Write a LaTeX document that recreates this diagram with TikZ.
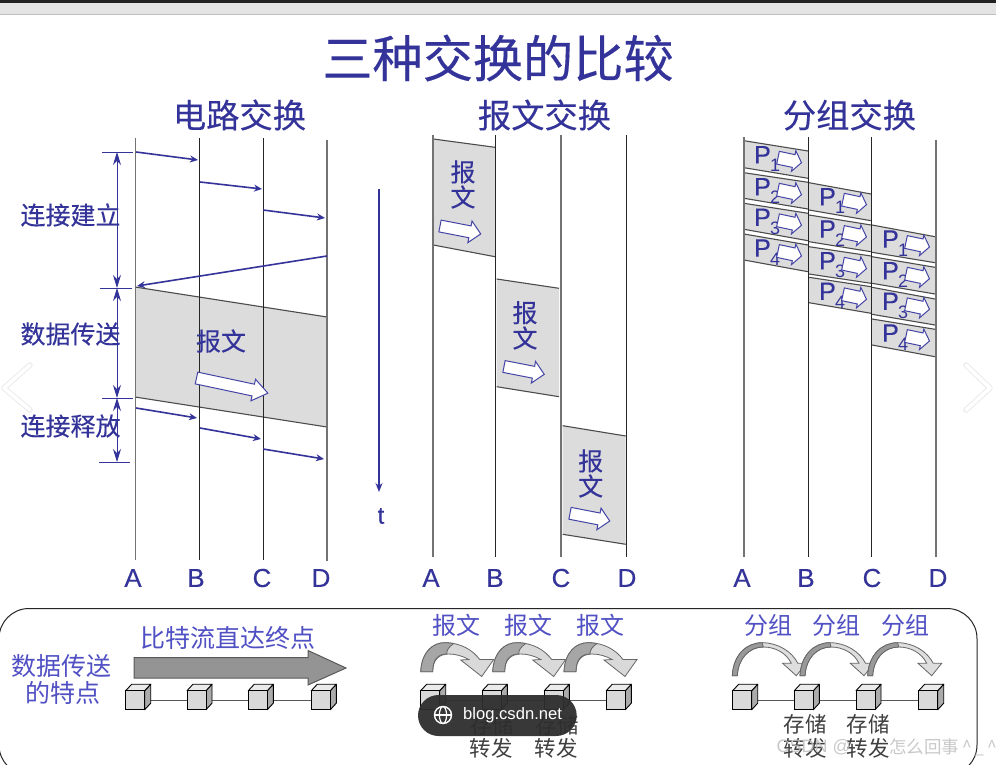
\documentclass[tikz,border=0pt]{standalone}
\usepackage{fontspec}
\usetikzlibrary{arrows.meta}
\setmainfont{Liberation Sans}
\newfontfamily\cjk[FakeBold=0.25]{Noto Sans CJK SC}
\newfontfamily\cjklight{Noto Sans CJK SC}
\newfontfamily\latbold[FakeBold=0.2]{Liberation Sans}
\definecolor{navy}{HTML}{333399}
\definecolor{soft}{HTML}{5050C4}
\definecolor{band}{HTML}{DCDCDC}
\newcommand{\fs}[1]{\fontsize{#1}{#1}\selectfont}
\tikzset{
  lbl/.style={inner sep=0pt,text=navy,font=\cjk\fs{25}},
  softlbl/.style={inner sep=0pt,text=soft,font=\cjklight\fs{24}},
  darklbl/.style={inner sep=0pt,text=black!75,font=\cjklight\fs{21.5}},
  axislbl/.style={inner sep=0pt,text=navy,font=\latbold\fs{26}},
  greyline/.style={draw=black!55,line width=1.2pt},
  blackline/.style={draw=black!85,line width=1pt},
  msgarrow/.style={draw=navy,line width=1.6pt,-{Stealth[length=8pt,width=7pt]}},
  dimarrow/.style={draw=navy,line width=0.9pt,{Stealth[length=13pt,width=8pt]}-{Stealth[length=13pt,width=8pt]}},
  tick/.style={draw=navy,line width=0.9pt},
  bandbox/.style={fill=band,draw=none},
  bandedge/.style={draw=black!70,line width=1.1pt},
  hollow/.style={fill=white,draw=soft!85!black,line width=1pt,line join=miter},
}
% lifeline
\newcommand{\life}[5]{\coordinate (#1-t) at (#2,#3);\coordinate (#1-b) at (#2,#4);\draw[#5] (#1-t)--(#1-b);}
% message arrow
\newcommand{\msg}[5]{\coordinate (#1-s) at (#2,#3);\coordinate (#1-e) at (#4,#5);\draw[msgarrow] (#1-s)--(#1-e);}
% hollow arrow: x y len angle halfshaft halfhead headlen
\newcommand{\harrow}[7]{\draw[hollow,shift={(#1,#2)},rotate=-#4]
  (0,-#5)--({#3-#7},-#5)--({#3-#7},-#6)--(#3,0)--({#3-#7},#6)--({#3-#7},#5)--(0,#5)--cycle;}
% slanted box: x1 x2 yt1 yt2 yb1 yb2
\newcommand{\slant}[6]{\fill[bandbox] (#1,#3)--(#2,#4)--(#2,#6)--(#1,#5)--cycle;
  \draw[bandedge] (#1,#3)--(#2,#4);\draw[bandedge] (#1,#5)--(#2,#6);}
% packet: name x1 x2 yt1 yt2 yb1 yb2 n
\newcommand{\pkt}[8]{\slant{#2}{#3}{#4}{#5}{#6}{#7}
  \node[inner sep=0pt,text=navy,font=\latbold\fs{25}] (#1-p) at ({#2+18.5},{#4+14}) {P};
  \node[inner sep=0pt,text=navy,font=\fs{18}] (#1-n) at ({#2+31},{#4+25}) {#8};
  \harrow{{#2+34}}{{#4+17}}{24}{12}{6.5}{10.5}{8}}
% cube: x y (front top-left)
\newcommand{\cube}[2]{
  \draw[black,line width=0.9pt,fill=black!33,line join=round] ({#1+19},#2)--({#1+25},{#2-6.5})--({#1+25},{#2+12.5})--({#1+19},{#2+19})--cycle;
  \draw[black,line width=0.9pt,fill=black!8,line join=round] (#1,#2)--({#1+6},{#2-6.5})--({#1+25},{#2-6.5})--({#1+19},#2)--cycle;
  \draw[black,line width=0.9pt,fill=black!15] (#1,#2) rectangle ({#1+19},{#2+19});}
% wide curved arrow at x0
\newcommand{\widearc}[1]{\begin{scope}[shift={(#1,0)}]
  \draw[black!60,line width=0.8pt,fill=black!15,line join=miter]
   (0,671.7) .. controls (1,652) and (12,642.7) .. (24,642.7) .. controls (40,642.7) and (52,650) .. (59,659.5)
   -- (73,659.5) -- (61,676.5) -- (40,660) -- (48,659.5) .. controls (42,656) and (35,654) .. (28,654)
   .. controls (18,654) and (12,660) .. (12,671.7) -- cycle;
  \draw[black!60,line width=0.8pt,fill=black!35,line join=miter]
   (0,671.7) .. controls (1,652) and (12,642.7) .. (24,642.7) .. controls (27,642.7) and (30,643) .. (33,643.5)
   .. controls (28,647) and (26,650) .. (26,654) .. controls (17,654) and (12,660) .. (12,671.7) -- cycle;
 \end{scope}}
% thin curved arrow at x0
\newcommand{\thinarc}[1]{\begin{scope}[shift={(#1,0)}]
  \draw[black!60,line width=0.8pt,fill=black!13,line join=miter]
   (0,675.7) .. controls (1,655) and (14,642.7) .. (30,642.7) .. controls (46,642.7) and (60,652) .. (65.5,663.3)
   -- (74,663.3) -- (64,675.7) -- (50.3,663.3) -- (59,663.3) .. controls (54,653) and (43,647) .. (31,647)
   .. controls (17,647) and (6,658) .. (5,675.7) -- cycle;
  \draw[black!60,line width=0.8pt,fill=black!40,line join=miter]
   (0,675.7) .. controls (1,655) and (14,642.7) .. (30,642.7) -- (31,647)
   .. controls (17,647) and (6,658) .. (5,675.7) -- cycle;
 \end{scope}}
\begin{document}
\begin{tikzpicture}[x=1pt,y=-1pt]
\useasboundingbox (0,0) rectangle (996,765);
\clip (0,0) rectangle (996,765);
\fill[white] (0,0) rectangle (996,765);
% browser top strip
\fill[black!87] (0,0) rectangle (996,3);
\fill[black!11] (0,3) rectangle (996,14);
\draw[black!25,line width=0.8pt] (0,14.5)--(996,14.5);
% headings
\node[inner sep=0pt,text=navy,font=\cjk\fs{50.2}] (title) at (498,58) {三种交换的比较};
\node[inner sep=0pt,text=navy,font=\cjk\fs{33.3}] (h1) at (239.5,115) {电路交换};
\node[inner sep=0pt,text=navy,font=\cjk\fs{33.3}] (h2) at (544.5,115) {报文交换};
\node[inner sep=0pt,text=navy,font=\cjk\fs{33.3}] (h3) at (849.5,115) {分组交换};
%% circuit switching
\fill[bandbox] (135,287)--(327,317)--(327,427)--(135,397)--cycle;
\draw[bandedge] (135,287)--(327,317);
\draw[bandedge] (135,397)--(327,427);
\life{la}{135.5}{138}{560}{greyline}
\life{lb}{199.5}{138}{560}{blackline}
\life{lc}{263.5}{138}{560}{blackline}
\life{ld}{327}{140}{561}{greyline}
\msg{m1}{136}{152}{198}{160}
\msg{m2}{200}{182}{262}{189}
\msg{m3}{263}{210}{325}{218}
\msg{m4}{327}{256}{137}{286}
\msg{m5}{136}{408}{197}{418}
\msg{m6}{200}{428}{261}{439}
\msg{m7}{263}{449}{324}{459}
\coordinate (d0) at (117,152);\coordinate (d1) at (117,288);\coordinate (d2) at (117,398);\coordinate (d3) at (117,462);
\draw[dimarrow] (d0)--(d1);
\draw[dimarrow] (d1)--(d2);
\draw[dimarrow] (d2)--(d3);
\draw[tick] (102,152)--(133,152);
\draw[tick] (100,288)--(132,288);
\draw[tick] (102,398)--(133,398);
\draw[tick] (99,462)--(130,462);
\node[lbl] (s1) at (70.5,215) {连接建立};
\node[lbl] (s2) at (70.5,334) {数据传送};
\node[lbl] (s3) at (70.5,426) {连接释放};
\node[lbl] (bw) at (221,341) {报文};
\harrow{196.5}{378}{73}{12}{6}{11}{15}
% time
\coordinate (t0) at (379,189);\coordinate (t1) at (379,492);
\draw[navy,line width=1.3pt,-{Stealth[length=9pt,width=7pt]}] (t0)--(t1);
\node[axislbl,font=\latbold\fs{24}] (tl) at (381,516) {t};
\node[axislbl] (a1) at (133,578) {A};
\node[axislbl] (b1) at (196,578) {B};
\node[axislbl] (c1) at (262,578) {C};
\node[axislbl] (e1) at (321,578) {D};
%% message switching
\slant{433.3}{495}{139}{147.3}{245}{256.7}
\slant{496.7}{559}{279}{288.3}{386.7}{396.7}
\slant{562.7}{625.7}{425.7}{436}{534.3}{544.3}
\life{ma}{433}{135}{557}{greyline}
\life{mb}{495.3}{135}{557}{blackline}
\life{mc}{561}{135}{557}{greyline}
\life{md}{626.3}{135}{557}{blackline}
\node[lbl] (x1a) at (463,172) {报};
\node[lbl] (x1b) at (463,197) {文};
\node[lbl] (x2a) at (525,312.7) {报};
\node[lbl] (x2b) at (525,338) {文};
\node[lbl] (x3a) at (590.7,461) {报};
\node[lbl] (x3b) at (590.7,486) {文};
\harrow{440}{226}{41.5}{11}{6}{11}{11}
\harrow{504}{366.5}{41}{11}{6}{11}{11}
\harrow{570}{513.3}{40.5}{11}{6}{11}{11}
\node[axislbl] (a2) at (431,578) {A};
\node[axislbl] (b2) at (495,578) {B};
\node[axislbl] (c2) at (561,578) {C};
\node[axislbl] (e2) at (627,578) {D};
%% packet switching
\pkt{p11}{744}{808}{140.7}{151}{167.7}{178.3}{1}
\pkt{p12}{744}{808}{172.7}{182.3}{198.3}{209}{2}
\pkt{p13}{744}{808}{203.3}{213.3}{229.3}{240.7}{3}
\pkt{p14}{744}{808}{234}{245}{260}{271.7}{4}
\pkt{p21}{809}{871}{182.7}{194}{210}{220.7}{1}
\pkt{p22}{809}{871}{215}{225}{241.7}{251.7}{2}
\pkt{p23}{809}{871}{246.7}{256}{274}{283.3}{3}
\pkt{p24}{809}{871}{277.3}{286.7}{302.7}{313.3}{4}
\pkt{p31}{872}{935}{225}{236.7}{252.3}{262.7}{1}
\pkt{p32}{872}{935}{256.7}{267.3}{283.3}{294}{2}
\pkt{p33}{872}{935}{287.3}{299}{314.3}{325}{3}
\pkt{p34}{872}{935}{319}{329.3}{345}{356.7}{4}
\life{ra}{744}{137}{557}{greyline}
\life{rb}{808.7}{137}{557}{blackline}
\life{rc}{871}{137}{557}{blackline}
\life{rd}{936}{140}{557}{greyline}
\node[axislbl] (a3) at (742,578) {A};
\node[axislbl] (b3) at (806,578) {B};
\node[axislbl] (c3) at (872,578) {C};
\node[axislbl] (e3) at (938,578) {D};
%% bottom panel
\draw[black!85,line width=1pt,rounded corners=30pt] (-1,608.5) rectangle (977,775);
\node[softlbl,font=\cjklight\fs{25}] (f1) at (62,666) {数据传送};
\node[softlbl,font=\cjklight\fs{25}] (f2) at (62.5,693) {的特点};
\node[softlbl,font=\cjklight\fs{25}] (f3) at (228,638) {比特流直达终点};
\draw[black!65,fill=black!42,line width=1pt] (134,657.5)--(308,657.5)--(308,650.5)--(346,668)--(308,685)--(308,678)--(134,678)--cycle;
\foreach \xa/\xb/\ya in {125.7/311.3/700,420.7/606.3/700,732.7/918.7/700}{
  \draw[black!65,line width=1pt] (\xa,\ya)--(\xb,\ya);}
\cube{125.7}{690.7}\cube{187}{690.7}\cube{248.3}{690.7}\cube{311.3}{690.7}
\cube{420.7}{690.7}\cube{482.3}{690.7}\cube{544.3}{690.7}\cube{606.3}{690.7}
\cube{732.7}{690.7}\cube{794.3}{690.7}\cube{856}{690.7}\cube{918.7}{690.7}
\node[softlbl] (q1) at (456,625) {报文};
\node[softlbl] (q2) at (528,625) {报文};
\node[softlbl] (q3) at (600.5,625) {报文};
\node[softlbl] (g1) at (768,625) {分组};
\node[softlbl] (g2) at (836,625) {分组};
\node[softlbl] (g3) at (905,625) {分组};
\widearc{420.7}\widearc{492.7}\widearc{564}
\thinarc{732.3}\thinarc{800}\thinarc{867.7}
\node[darklbl] (k1) at (492,725) {存储};
\node[darklbl] (k2) at (557,725) {存储};
\node[darklbl] (k3) at (491,748) {转发};
\node[darklbl] (k4) at (556,748) {转发};
\node[darklbl] (k5) at (805,724) {存储};
\node[darklbl] (k6) at (868,724) {存储};
\node[darklbl] (k7) at (805,748) {转发};
\node[darklbl] (k8) at (868,748) {转发};
%% viewer overlays
\foreach \xa/\xb in {30/4,966/990}{
  \draw[black!8,line width=5.5pt,line cap=round,line join=round] (\xa,365)--(\xb,388)--(\xa,410);
  \draw[white,line width=3.5pt,line cap=round,line join=round] (\xa,365)--(\xb,388)--(\xa,410);}
\fill[black!82,opacity=.95,rounded corners=20.5pt] (418,695) rectangle (576.7,736);
\node[inner sep=0pt,anchor=west,text=white,font=\fs{16.6}] (bloglbl) at (463,715) {blog.csdn.net};
\coordinate (gl) at (443,715);
\draw[white,line width=1.4pt] (gl) circle (8.5);
\draw[white,line width=1.2pt] (gl) ellipse (3.6 and 8.5);
\draw[white,line width=1.2pt] (434.5,715)--(451.5,715);
\node[inner sep=0pt,anchor=east,text=black!25,opacity=.85,font=\fs{18}] (wm1) at (851,747) {CSDN @};
\node[inner sep=0pt,anchor=west,text=black!25,opacity=.85,font=\cjklight\fs{17.5}] (wm2) at (889,747) {怎么回事\,\^{}\,\_\,\^{}};
\end{tikzpicture}
\end{document}
